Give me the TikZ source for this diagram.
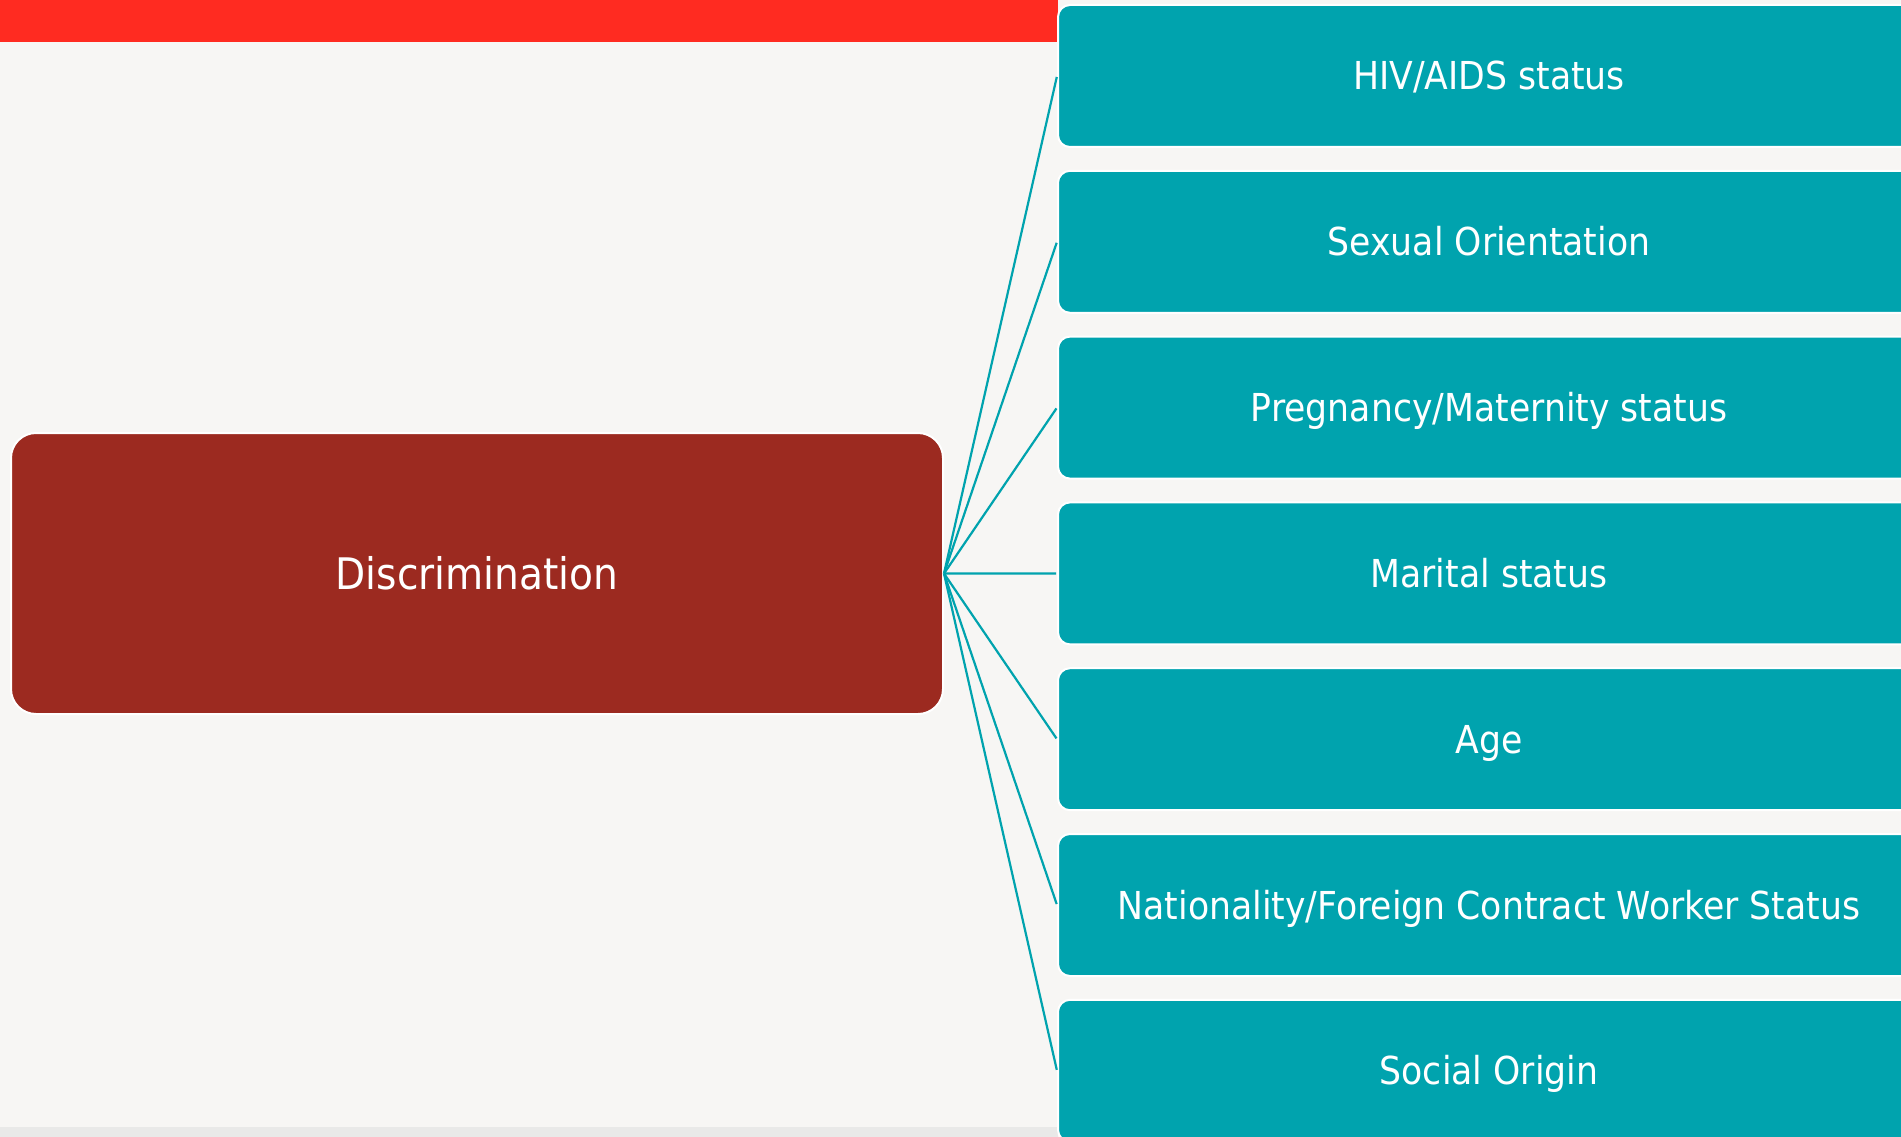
\documentclass[tikz,border=0pt]{standalone}
\usepackage{fontspec}
\setmainfont[FakeStretch=0.9]{DejaVu Sans}
\definecolor{slidebg}{HTML}{F7F6F4}
\definecolor{topbar}{HTML}{FF2B21}
\definecolor{footbar}{HTML}{E9E9E8}
\definecolor{rootred}{HTML}{9C2A20}
\definecolor{itemteal}{HTML}{00A3AE}
\tikzset{%
  root box/.style={draw=white, line width=2pt, fill=rootred, rounded corners=25pt,
    minimum width=932pt, minimum height=281pt, text=white,
    text height=31pt, text depth=0pt, font=\fontsize{43.5}{50}\selectfont},
  item box/.style={draw=white, line width=2pt, fill=itemteal, rounded corners=12pt,
    minimum width=862pt, minimum height=142pt, text=white,
    text height=28pt, text depth=0pt, font=\fontsize{38.5}{46}\selectfont},
  link/.style={draw=itemteal, line width=2.2pt, shorten >=1pt},
}

\begin{document}
\begin{tikzpicture}[x=1pt,y=-1pt]
  % slide area, px units
  \useasboundingbox (0,0) rectangle (1901,1137);
  \clip (0,0) rectangle (1901,1137);
  \fill[slidebg] (0,0) rectangle (1901,1137);
  \fill[topbar] (0,0) rectangle (1058,42);
  \fill[footbar] (0,1127) rectangle (1058,1137);
  % root
  \node[root box] (disc) at (477,573.5) {Discrimination};
  % grounds, one box per row
  \foreach \lbl [count=\i from 0] in {HIV/AIDS status, Sexual Orientation,
      Pregnancy/Maternity status, Marital status, Age,
      Nationality/Foreign Contract Worker Status, Social Origin} {
    \node[item box] (b\i) at (1489,{76+165.8*\i}) {\lbl};
  }
  % links
  \foreach \i in {0,...,6}
    \draw[link] (disc.east) -- (b\i.west);
\end{tikzpicture}
\end{document}
